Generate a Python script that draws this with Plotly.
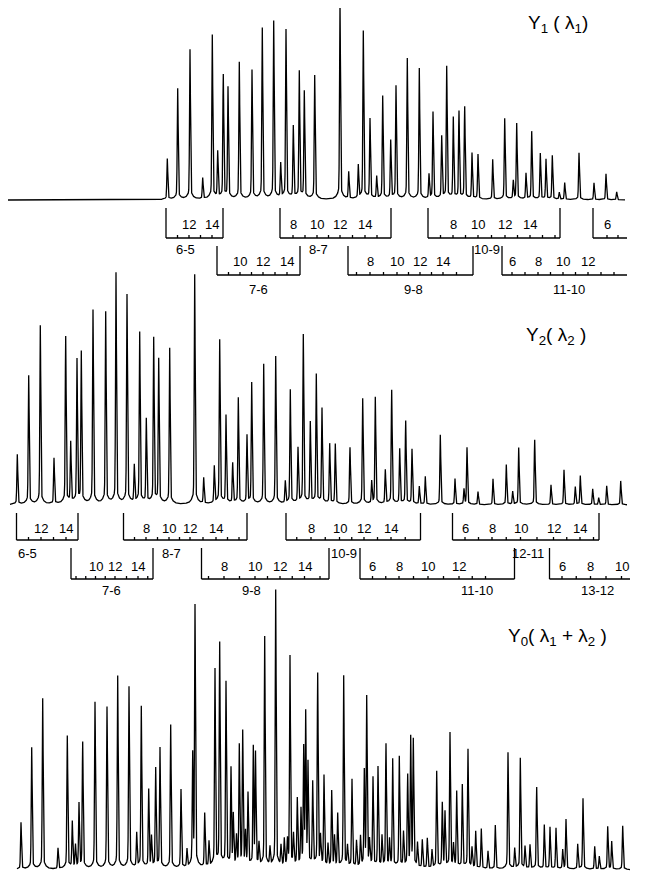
import numpy as np
import plotly.graph_objects as go

# ---------------- data: line positions (channel) and intensities ----------------
y1_pos = [167.3, 177.7, 190, 202.7, 212.3, 217.7, 223.3, 228, 239.3, 252, 262.3, 273.7, 280.7, 286,
          293.3, 299.3, 304.3, 314.7, 340, 348.7, 358.3, 363.3, 370, 376.7, 382.7, 390.7, 396,
          407.3, 419.3, 429, 433, 441.7, 446.7, 453.3, 459, 464.7, 472, 478, 492.7, 504.7, 513.3,
          516.7, 526, 531.7, 540.3, 546, 552.3, 559.3, 564.7, 579, 594, 606, 616.7]
y1_int = [41, 111, 150, 21, 164, 46, 123, 111, 137, 129, 171, 178, 34, 169,
          72, 127, 107, 124, 197, 27, 33, 168, 80, 22, 103, 58, 113,
          141, 131, 24, 87, 62, 132, 81, 87, 92, 46, 45, 40, 81, 18,
          76, 26, 68, 46, 40, 44, 7, 17, 47, 17, 26, 8]

y2_pos = [17.3, 28.7, 40.3, 54, 65.7, 70.7, 77, 81.3, 93, 105.7, 116, 127, 134.3, 139.7, 146.3,
          153.7, 158.7, 169.7, 194.7, 203.7, 214.3, 219.7, 226, 232.7, 238.3, 247, 251.7, 263.7,
          275.7, 285.3, 290.3, 298, 303.3, 310.3, 316.3, 322, 329.7, 335.3, 350, 362.7, 371.7,
          375.3, 385.3, 391.7, 399.7, 405.7, 412, 419.3, 425.3, 440.3, 455, 464, 467, 478, 493,
          506.3, 512.7, 518.7, 534.7, 551, 564, 575.3, 580.3, 592.7, 598.7, 606.7, 620.7]
y2_int = [50, 129, 179, 46, 167, 60, 143, 151, 194, 192, 231, 209, 37, 171, 84,
          165, 144, 156, 230, 26, 37, 164, 88, 40, 106, 68, 121, 140,
          148, 22, 114, 55, 169, 81, 129, 95, 60, 60, 57, 106, 22,
          107, 34, 114, 55, 83, 55, 18, 28, 70, 26, 15, 57, 13, 26,
          40, 13, 57, 65, 20, 35, 18, 29, 16, 7, 19, 24]

y0_pos = [21, 31.7, 42.7, 58, 67.3, 72.3, 79, 82.7, 95, 107, 117.7, 129, 136.7, 141.3, 148.7,
          155.7, 160, 170.7, 181, 192.7, 195, 204.7, 215, 219.7, 226, 231, 233.3, 239.3, 242.7,
          248, 253.3, 255.5, 264.7, 275.7, 284.3, 290, 297.3, 301, 303.7, 305.7, 308, 312.7,
          317.7, 324, 331.7, 337.7, 343.7, 352, 364.3, 366.7, 373, 378, 386, 392.7, 399.3,
          407.7, 410.7, 413.3, 422.3, 427.3, 436.7, 442.3, 445, 450, 456.7, 462.3, 468, 475.7,
          481.3, 495.3, 508, 514.7, 520.3, 530, 536.7, 544.3, 550, 556, 562.7, 566, 577.7, 583,
          594.7, 599.3, 607.7, 611.7, 622.7,
          # weaker overlapping lines in the dense region
          75.5, 151.5, 187, 209, 236.5, 245.5, 259, 270, 281, 287.5, 293.5, 320.5, 328, 334.5,
          347.5, 356.5, 360.5, 369.5, 382, 389.5, 403.5, 417.5, 432, 453.5, 472, 488, 525]
y0_int = [47, 122, 171, 21, 133, 46, 64, 126, 167, 162, 193, 182, 34, 162, 78,
          99, 120, 144, 79, 110, 261, 54, 197, 223, 184, 97, 50, 120, 134,
          72, 118, 112, 231, 278, 27, 211, 67, 54, 115, 150, 100, 83,
          193, 91, 76, 53, 192, 88, 94, 169, 89, 100, 123, 108, 111,
          90, 128, 126, 28, 30, 97, 64, 55, 135, 76, 83, 119, 37,
          40, 44, 117, 20, 111, 24, 82, 44, 42, 41, 19, 50, 25, 71,
          23, 13, 43, 28, 44,
          22, 30, 18, 25, 28, 32, 22, 18, 20, 24, 30, 28, 22, 30,
          20, 26, 30, 24, 30, 26, 34, 24, 18, 22, 20, 18, 22]

spectra = [
    dict(pos=y1_pos, inten=y1_int, start=8, end=625, axis="y"),
    dict(pos=y2_pos, inten=y2_int, start=10, end=627, axis="y2"),
    dict(pos=y0_pos, inten=y0_int, start=17, end=630, axis="y3"),
]

series_labels = ["Y<sub>1</sub> ( λ<sub>1</sub>)", "Y<sub>2</sub>( λ<sub>2</sub> )",
                 "Y<sub>0</sub>( λ<sub>1</sub> + λ<sub>2</sub> )"]

# band brackets: (name, row, left, right, [(J, channel), ...])
brackets_1 = [
    ("6-5", 1, 166, 223, [(12, 189), (14, 212)]),
    ("8-7", 1, 280, 391, [(8, 293), (10, 317), (12, 340), (14, 365)]),
    ("10-9", 1, 428, 560, [(8, 453), (10, 478), (12, 505), (14, 530)]),
    ("", 1, 593, 627, [(6, 607)]),
    ("7-6", 2, 217, 300, [(10, 240), (12, 263), (14, 287)]),
    ("9-8", 2, 348, 473, [(8, 370), (10, 397), (12, 420), (14, 443)]),
    ("11-10", 2, 502, 627, [(6, 512), (8, 538), (10, 563), (12, 588)]),
]
brackets_2 = [
    ("6-5", 1, 16.5, 78, [(12, 41), (14, 66)]),
    ("8-7", 1, 123.5, 247, [(8, 146), (10, 169), (12, 190), (14, 216)]),
    ("10-9", 1, 286, 420.5, [(8, 311), (10, 339.5), (12, 364), (14, 391)]),
    ("12-11", 1, 452.5, 599, [(6, 465), (8, 492), (10, 520.5), (12, 553.5), (14, 580)]),
    ("7-6", 2, 71, 153, [(10, 95.5), (12, 115), (14, 138)]),
    ("9-8", 2, 201.5, 329, [(8, 224), (10, 255), (12, 280), (14, 304.5)]),
    ("11-10", 2, 360, 514.5, [(6, 372.5), (8, 399), (10, 428), (12, 459)]),
    ("13-12", 2, 549.5, 630, [(6, 562), (8, 590.5), (10, 621.5)]),
]
bracket_text_x_1 = {"6-5": 185, "8-7": 318, "10-9": 487, "7-6": 258, "9-8": 413, "11-10": 569}
bracket_text_x_2 = {"6-5": 27, "8-7": 171, "10-9": 344, "12-11": 528, "7-6": 111, "9-8": 251,
                    "11-10": 477, "13-12": 597}

# ---------------- layout geometry (screen pixels) ----------------
W, H = 645, 873
OFF = 8            # default page body margin of the html page
FW, FH = W - OFF, H - OFF
SIGMA, ETA, GAMMA = 0.45, 0.06, 2.5   # line shape: gaussian core + weak lorentzian wings
panels = [  # baseline pixel, top pixel, bottom pad
    (200, 8, 5),
    (505, 270, 5),
    (870, 585, 3),
]
rows_geom = [
    {1: (208, 238, 225, 250), 2: (246, 275, 262, 289)},
    {1: (513, 540, 528, 553), 2: (548, 579, 566, 590)},
]


def py(p):
    return 1 - (p - OFF) / FH


fig = go.Figure()
for sp, (base, top, pad) in zip(spectra, panels):
    x = np.arange(sp["start"], sp["end"] + 0.05, 0.05)
    pos = np.array(sp["pos"], float)[:, None]
    amp = np.array(sp["inten"], float)[:, None]
    dx = x[None, :] - pos
    shape = (1 - ETA) * np.exp(-dx ** 2 / (2 * SIGMA ** 2)) + ETA * GAMMA ** 2 / (dx ** 2 + GAMMA ** 2)
    y = (amp * shape).sum(axis=0)
    fig.add_trace(go.Scatter(x=x, y=y, mode="lines", xaxis="x", yaxis=sp["axis"],
                             line=dict(color="black", width=1.3), hoverinfo="skip"))

layout_axes = {}
for i, (base, top, pad) in enumerate(panels):
    name = "yaxis" if i == 0 else f"yaxis{i + 1}"
    bottom_px = min(base + pad, H)
    layout_axes[name] = dict(domain=[max(py(bottom_px), 0), min(py(top), 1)],
                             range=[-(bottom_px - base), base - top],
                             visible=False, anchor="x", fixedrange=True)

shapes = []
annotations = []
line_style = dict(color="black", width=1.3)
for panel_idx, (brs, txt_x) in enumerate([(brackets_1, bracket_text_x_1), (brackets_2, bracket_text_x_2)]):
    geom = rows_geom[panel_idx]
    for name, row, left, right, ticks in brs:
        t, b, ly, ty = geom[row]
        shapes.append(dict(type="line", xref="x", yref="paper", x0=left, x1=left, y0=py(t), y1=py(b), line=line_style))
        shapes.append(dict(type="line", xref="x", yref="paper", x0=left, x1=right, y0=py(b), y1=py(b), line=line_style))
        if right < 626:
            shapes.append(dict(type="line", xref="x", yref="paper", x0=right, x1=right, y0=py(t), y1=py(b), line=line_style))
        xs = [c for _, c in ticks]
        tick_x = list(xs)
        for a, c in zip(xs[:-1], xs[1:]):
            tick_x.append((a + c) / 2)
        step = (xs[1] - xs[0]) / 2 if len(xs) > 1 else 11
        for k in (1, 2):
            if xs[0] - k * step > left + 3:
                tick_x.append(xs[0] - k * step)
            if xs[-1] + k * step < right - 3:
                tick_x.append(xs[-1] + k * step)
        for tx in tick_x:
            shapes.append(dict(type="line", xref="x", yref="paper", x0=tx, x1=tx, y0=py(b), y1=py(b - 3), line=line_style))
        for J, c in ticks:
            annotations.append(dict(x=c, y=py(ly), xref="x", yref="paper", text=str(J), showarrow=False,
                                    font=dict(family="Liberation Sans", size=13, color="black"),
                                    xanchor="center", yanchor="middle"))
        if name:
            annotations.append(dict(x=txt_x[name], y=py(ty), xref="x", yref="paper", text=name, showarrow=False,
                                    font=dict(family="Liberation Sans", size=13, color="black"),
                                    xanchor="center", yanchor="middle"))

label_pos = [(558, 24), (556, 336), (557, 637)]
for txt, (lx, ly) in zip(series_labels, label_pos):
    annotations.append(dict(x=lx, y=py(ly), xref="x", yref="paper", text=txt, showarrow=False,
                            font=dict(family="Liberation Sans", size=19, color="black"),
                            xanchor="center", yanchor="middle"))

fig.update_layout(
    width=FW, height=FH, margin=dict(l=0, r=0, t=0, b=0),
    paper_bgcolor="white", plot_bgcolor="white", showlegend=False,
    xaxis=dict(range=[OFF, W], visible=False, domain=[0, 1], fixedrange=True),
    shapes=shapes, annotations=annotations,
    **layout_axes,
)
fig.write_html("out.html")
